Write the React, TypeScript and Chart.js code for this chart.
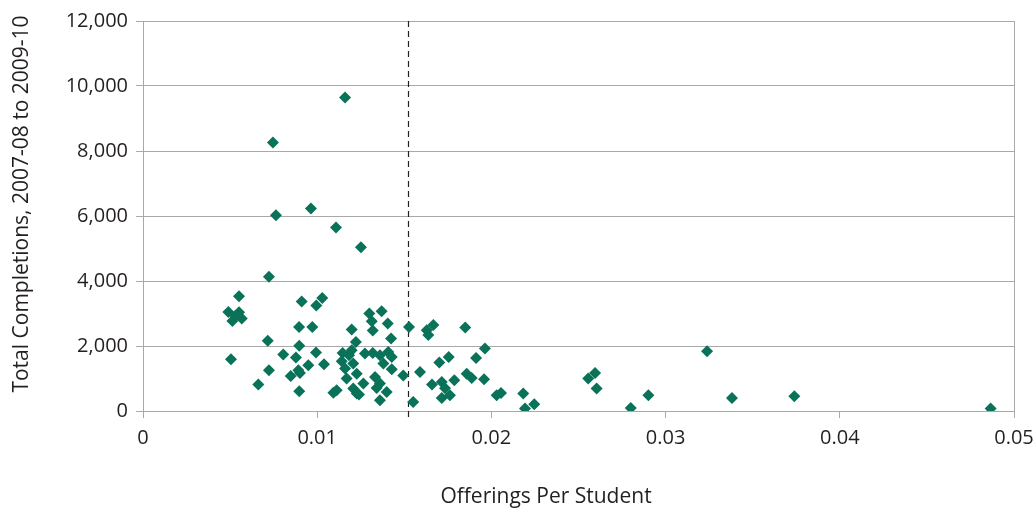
import React, { useEffect, useRef } from 'react';
import { Chart, registerables } from 'chart.js';

Chart.register(...registerables);

const offeringsPerStudent: number[] = [
  0.0116, 0.00746, 0.00763, 0.00964, 0.01108, 0.01251, 0.00723, 0.00551, 0.00911, 0.01029, 0.00995,
  0.0049, 0.00551, 0.00513, 0.00567, 0.0053,
  0.01299, 0.0137, 0.01313, 0.01405, 0.01319, 0.01198, 0.00896, 0.00972, 0.01527, 0.01629,
  0.01667, 0.01638, 0.0185, 0.01424, 0.00716, 0.00897, 0.01222, 0.01963, 0.01912, 0.01755,
  0.01701, 0.00505, 0.00805, 0.00878, 0.00993, 0.00949, 0.01039, 0.00723, 0.00892, 0.00848,
  0.00901, 0.00662, 0.00897, 0.01093,
  0.01146, 0.01198, 0.01274, 0.01319, 0.01408, 0.01428, 0.01207, 0.0116, 0.0138, 0.01428,
  0.01227, 0.01169, 0.01494, 0.01332, 0.01265, 0.0136, 0.01112, 0.01207, 0.01399, 0.0136, 0.01227,
  0.0159, 0.01659, 0.01715, 0.01734, 0.01715, 0.01762, 0.01787, 0.01858, 0.01887, 0.01958,
  0.01551, 0.0203, 0.02055, 0.02183, 0.02193, 0.02246, 0.02556, 0.02595, 0.02604, 0.028,
  0.02901, 0.03238, 0.03381, 0.03739, 0.04866,
  0.01183, 0.01141, 0.0124, 0.0136, 0.01341,
];

const totalCompletions: number[] = [
  9650, 8260, 6020, 6230, 5650, 5040, 4130, 3530, 3370, 3480, 3250,
  3050, 3040, 2770, 2850, 2920,
  3000, 3070, 2760, 2690, 2480, 2510, 2585, 2585, 2585, 2483,
  2650, 2340, 2566, 2230, 2160, 2010, 2120, 1920, 1630, 1660,
  1489, 1590, 1735, 1643, 1797, 1406, 1437, 1252, 1252, 1077,
  1170, 812, 606, 560,
  1785, 1868, 1766, 1785, 1816, 1662, 1459, 1305, 1459, 1283,
  1150, 997, 1090, 1046, 843, 843, 637, 689, 585, 329, 535,
  1200, 812, 892, 700, 400, 483, 945, 1150, 1015, 975,
  280, 483, 554, 535, 74, 206, 997, 1170, 689, 92,
  483, 1837, 400, 452, 74,
  1714, 1530, 505, 1714, 708,
];

const xTickLabels: string[] = ['0', '0.01', '0.02', '0.03', '0.04', '0.05'];
const yTickLabels: string[] = ['0', '2,000', '4,000', '6,000', '8,000', '10,000', '12,000'];
const cutoffValue = 0.0152;
const xTitle = 'Offerings Per Student';
const yTitle = 'Total Completions, 2007-08 to 2009-10';

const FONT = '"Open Sans", "Noto Sans", sans-serif';
const TEXT = '#231f20';
const GRID = '#a9a9a9';
const POINT = '#0a7259';

export default function App() {
  const ref = useRef<HTMLCanvasElement | null>(null);

  useEffect(() => {
    const canvas = ref.current;
    if (!canvas) return;
    document.body.style.margin = '0';

    const cutoffPlugin = {
      id: 'cutoffLine',
      beforeDatasetsDraw(chart: any) {
        const { ctx, chartArea, scales } = chart;
        const x = Math.round(scales.x.getPixelForValue(cutoffValue)) + 0.5;
        ctx.save();
        ctx.strokeStyle = TEXT;
        ctx.lineWidth = 1.2;
        ctx.setLineDash([6, 4]);
        ctx.beginPath();
        ctx.moveTo(x, chartArea.top);
        ctx.lineTo(x, chartArea.bottom + 8);
        ctx.stroke();
        ctx.restore();
      },
    };

    const titlesPlugin = {
      id: 'axisTitles',
      afterDraw(chart: any) {
        const { ctx } = chart;
        ctx.save();
        ctx.fillStyle = TEXT;
        ctx.font = `21px ${FONT}`;
        ctx.textAlign = 'center';
        ctx.textBaseline = 'middle';
        ctx.fillText(xTitle, 546, 497);
        ctx.translate(22, 204);
        ctx.rotate(-Math.PI / 2);
        ctx.fillText(yTitle, 0, 0);
        ctx.restore();
      },
    };

    const chart = new Chart(canvas, {
      type: 'scatter',
      data: {
        datasets: [
          {
            data: offeringsPerStudent.map((x, i) => ({ x, y: totalCompletions[i] })),
            pointStyle: 'rectRot',
            pointRadius: 6,
            pointHoverRadius: 6,
            pointBackgroundColor: POINT,
            pointBorderColor: POINT,
            pointBorderWidth: 0,
          },
        ],
      },
      options: {
        responsive: false,
        animation: false,
        layout: { padding: { left: 0, top: 21, right: 22, bottom: 0 } },
        plugins: {
          legend: { display: false },
          tooltip: { enabled: false },
        },
        scales: {
          x: {
            type: 'linear',
            min: 0,
            max: 0.05,
            afterFit: (s: any) => {
              s.height = 99;
              s.paddingRight = 0;
              s.paddingLeft = 0;
            },
            ticks: {
              stepSize: 0.01,
              padding: 8,
              color: TEXT,
              font: { family: FONT, size: 20 },
              maxRotation: 0,
              callback: (_v: any, i: number) => xTickLabels[i],
            },
            grid: {
              drawOnChartArea: true,
              color: (c: any) => (c.index === 5 ? GRID : 'rgba(0,0,0,0)'),
              tickColor: GRID,
              tickLength: 7,
            },
            border: { display: true, color: GRID },
          },
          y: {
            type: 'linear',
            min: 0,
            max: 12000,
            afterFit: (s: any) => {
              s.width = 143;
              s.paddingTop = 0;
              s.paddingBottom = 0;
            },
            ticks: {
              stepSize: 2000,
              padding: 8,
              color: TEXT,
              font: { family: FONT, size: 20 },
              callback: (_v: any, i: number) => yTickLabels[i],
            },
            grid: {
              color: GRID,
              tickColor: GRID,
              tickLength: 7,
            },
            border: { display: true, color: GRID },
          },
        },
      },
      plugins: [cutoffPlugin, titlesPlugin],
    });

    return () => chart.destroy();
  }, []);

  return (
    <div style={{ position: 'absolute', left: 0, top: 0, width: 1036, height: 510, background: '#fff' }}>
      <canvas ref={ref} width={1036} height={510} style={{ display: 'block' }} />
    </div>
  );
}
